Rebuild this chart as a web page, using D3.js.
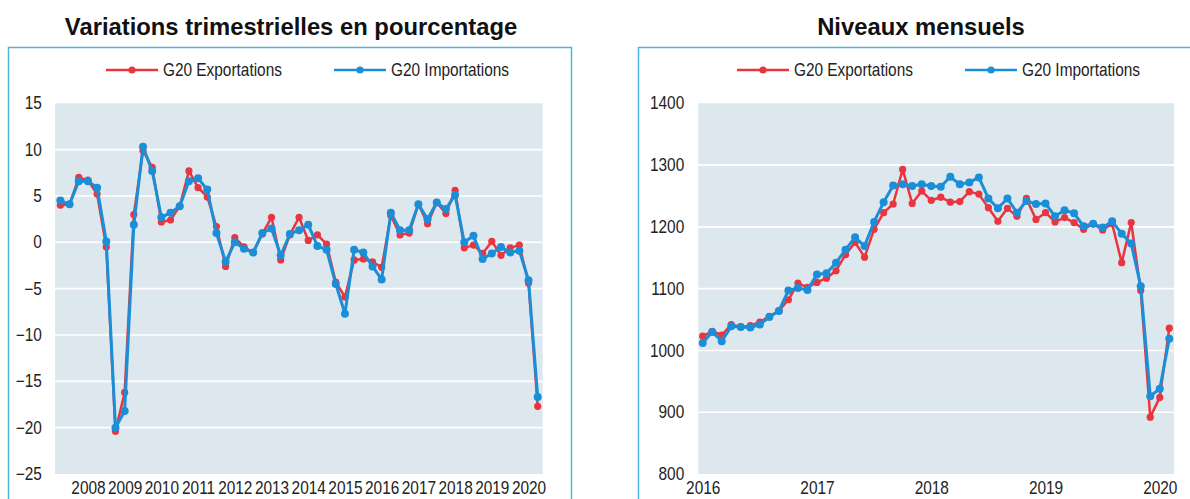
<!DOCTYPE html>
<html>
<head>
<meta charset="utf-8">
<script src="https://cdn.jsdelivr.net/npm/d3@7"></script>
<style>
  html, body { margin: 0; padding: 0; background: #fff; }
  svg { display: block; font-family: "Liberation Sans", Arial, sans-serif; }
  .tick text { fill: #222; }
</style>
</head>
<body>
<svg id="chart" width="1190" height="499"></svg>
<script>
// quarterly % changes, 2007Q2 .. 2020Q2
var qYears = ["2008", "2009", "2010", "2011", "2012", "2013", "2014", "2015", "2016", "2017", "2018", "2019", "2020"]
var qExports = [4.0, 4.1, 7.0, 6.7, 5.2, -0.5, -20.4, -16.2, 3.0, 9.9, 8.1, 2.2, 2.4, 3.9, 7.7, 5.9, 4.9, 1.7,
  -2.6, 0.5, -0.5, -1.1, 0.9, 2.7, -1.9, 0.8, 2.7, 0.2, 0.8, -0.2, -4.3, -5.9, -1.9, -1.8, -2.1, -2.7,
  2.9, 0.8, 1.0, 4.1, 2.0, 4.3, 3.1, 5.6, -0.6, -0.3, -1.2, 0.1, -1.4, -0.6, -0.3, -4.4, -17.7]
var qImports = [4.5, 4.1, 6.6, 6.6, 5.9, 0.1, -20.0, -18.2, 1.9, 10.3, 7.7, 2.7, 3.2, 3.9, 6.6, 6.9, 5.7, 1.0,
  -2.1, 0.0, -0.7, -1.1, 1.0, 1.5, -1.4, 0.9, 1.3, 1.9, -0.4, -0.8, -4.5, -7.7, -0.8, -1.1, -2.6, -4.0,
  3.2, 1.3, 1.3, 4.1, 2.5, 4.3, 3.6, 5.1, 0.0, 0.7, -1.8, -1.2, -0.5, -1.1, -0.9, -4.1, -16.7]
var qTicks = [15, 10, 5, 0, -5, -10, -15, -20, -25]

// monthly levels
var mYears = ["2016", "2017", "2018", "2019", "2020"]
var mExports = [1023, 1031, 1025, 1042, 1038, 1040, 1046, 1055, 1064, 1082, 1109, 1102, 1110, 1117, 1129, 1155,
  1175, 1151, 1196, 1223, 1237, 1293, 1238, 1258, 1243, 1248, 1240, 1241, 1257, 1253, 1231, 1209, 1230, 1217,
  1246, 1212, 1223, 1208, 1215, 1207, 1196, 1205, 1195, 1205, 1142, 1207, 1097, 892, 924, 1036]
var mImports = [1012, 1030, 1015, 1039, 1038, 1037, 1042, 1054, 1064, 1097, 1101, 1098, 1123, 1125, 1142, 1163,
  1183, 1169, 1208, 1240, 1267, 1269, 1266, 1269, 1266, 1265, 1281, 1269, 1272, 1280, 1246, 1230, 1246, 1223,
  1242, 1237, 1238, 1217, 1227, 1222, 1201, 1205, 1199, 1209, 1189, 1173, 1104, 926, 938, 1019]
var mTicks = [800, 900, 1000, 1100, 1200, 1300, 1400]

var seriesNames = ["G20 Exportations", "G20 Importations"]
var red = "#e8353f", blue = "#1b8ed8"

// the source uses a narrow face, so squeeze the small texts a bit
var narrow = "scale(0.88,1)"

var svg = d3.select("#chart")

function panel(opt) {
  var g = svg.append("g")

  // outer frame
  g.append("rect")
    .attr("x", opt.box[0]).attr("y", opt.box[1])
    .attr("width", opt.box[2]).attr("height", opt.box[3])
    .attr("fill", "none").attr("stroke", "#4fb3de").attr("stroke-width", 1.5)

  g.append("text")
    .attr("x", opt.titleX).attr("y", 35)
    .attr("text-anchor", "middle")
    .style("font-size", "23.8px").style("font-weight", 700).attr("fill", "#111")
    .text(opt.title)

  var x = d3.scaleLinear().domain([0, opt.n - 1]).range(opt.xRange)
  var y = d3.scaleLinear().domain(opt.yDomain).range([opt.plot[3], opt.plot[1]])

  g.append("rect")
    .attr("x", opt.plot[0]).attr("y", opt.plot[1])
    .attr("width", opt.plot[2] - opt.plot[0]).attr("height", opt.plot[3] - opt.plot[1])
    .attr("fill", "#dde7ee")

  g.selectAll(".grid")
    .data(opt.yTicks.filter(function(d) { return d > opt.yDomain[0] && d < opt.yDomain[1] }))
    .enter().append("line")
    .attr("x1", opt.plot[0]).attr("x2", opt.plot[2])
    .attr("y1", function(d) { return y(d) }).attr("y2", function(d) { return y(d) })
    .attr("stroke", "#fff").attr("stroke-width", 1.6)

  var yAxis = g.append("g")
    .attr("transform", "translate(" + opt.plot[0] + ",0)")
    .call(d3.axisLeft(y).tickValues(opt.yTicks).tickFormat(d3.format("d"))
      .tickSize(0).tickPadding(opt.yPad))
  yAxis.select(".domain").remove()
  yAxis.selectAll("text").style("font-size", "17.5px").attr("transform", narrow)

  var xAxis = g.append("g")
    .attr("transform", "translate(0," + opt.plot[3] + ")")
    .call(d3.axisBottom(x)
      .tickValues(opt.labels.map(function(d, i) { return opt.firstLabel + i * opt.labelStep }))
      .tickFormat(function(d) { return opt.labels[(d - opt.firstLabel) / opt.labelStep] })
      .tickSize(0).tickPadding(8))
  xAxis.select(".domain").remove()
  xAxis.selectAll("text").style("font-size", "17.5px").attr("transform", narrow)

  var line = d3.line()
    .x(function(d, i) { return x(i) })
    .y(function(d) { return y(d) })

  var series = [
    { values: opt.exports, color: red, width: 2.5, r: 3.6 },
    { values: opt.imports, color: blue, width: 3, r: 4 }
  ]

  series.forEach(function(s) {
    g.append("path")
      .datum(s.values)
      .attr("d", line)
      .attr("fill", "none").attr("stroke", s.color).attr("stroke-width", s.width)
      .attr("stroke-linejoin", "round")
    g.selectAll(null)
      .data(s.values)
      .enter().append("circle")
      .attr("cx", function(d, i) { return x(i) })
      .attr("cy", function(d) { return y(d) })
      .attr("r", s.r)
      .attr("fill", s.color)
  })

  // legend
  var leg = g.selectAll(".leg")
    .data(series)
    .enter().append("g")
    .attr("transform", function(d, i) { return "translate(" + opt.legendX[i] + ",70)" })
  leg.append("line")
    .attr("x1", 0).attr("x2", 52)
    .attr("stroke", function(d) { return d.color }).attr("stroke-width", 2.5)
  leg.append("circle")
    .attr("cx", 26).attr("r", 3.6)
    .attr("fill", function(d) { return d.color })
  leg.append("text")
    .attr("transform", "translate(57,0) " + narrow)
    .attr("dy", "0.35em")
    .style("font-size", "17.5px").attr("fill", "#222")
    .text(function(d, i) { return seriesNames[i] })
}

panel({
  title: "Variations trimestrielles en pourcentage",
  titleX: 291,
  box: [8.5, 47.5, 563, 480],
  plot: [55, 103.3, 542.7, 474],
  xRange: [60.4, 537.7],
  n: qExports.length,
  yDomain: [-25, 15],
  yTicks: qTicks,
  yPad: 15,
  labels: qYears,
  firstLabel: 3,
  labelStep: 4,
  exports: qExports,
  imports: qImports,
  legendX: [106, 334]
})

panel({
  title: "Niveaux mensuels",
  titleX: 921,
  box: [638.5, 47.5, 600, 480],
  plot: [698.3, 103.3, 1174, 474],
  xRange: [702.7, 1169.3],
  n: mExports.length,
  yDomain: [800, 1400],
  yTicks: mTicks,
  yPad: 16,
  labels: mYears,
  firstLabel: 0,
  labelStep: 12,
  exports: mExports,
  imports: mImports,
  legendX: [737, 965]
})
</script>
</body>
</html>
